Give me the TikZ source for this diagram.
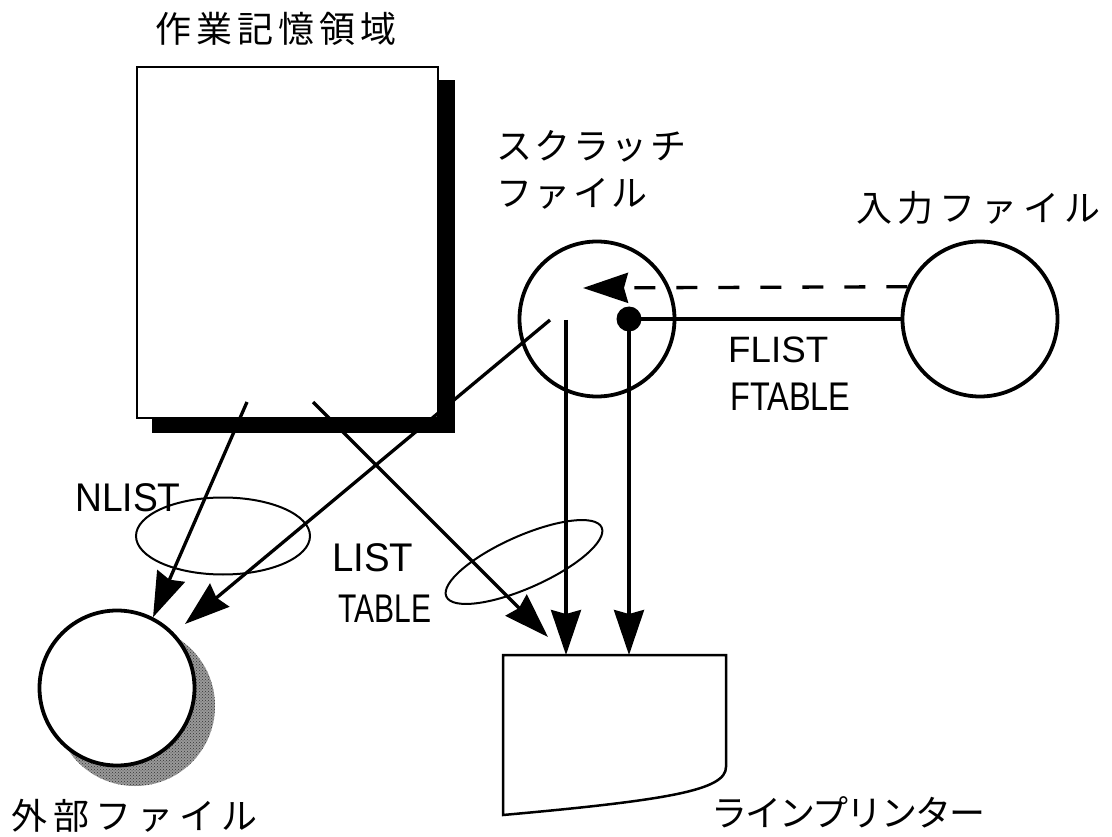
\documentclass[tikz,border=0pt]{standalone}
\usepackage{fontspec}
\setmainfont{Liberation Sans}
\newfontfamily\jp{Noto Sans CJK JP}
\usetikzlibrary{arrows.meta,patterns,shapes.geometric}
\begin{document}
\begin{tikzpicture}[x=1pt,y=-1pt,
  arrow/.style={line width=3.3pt,-{Stealth[length=45pt,width=30pt,inset=4pt]}},
  fileC/.style={circle,draw,line width=3.8pt,minimum size=155pt,inner sep=0pt,fill=white},
  ring/.style={ellipse,draw,line width=2pt,inner sep=0pt,fill=none},
  jlab/.style={font=\jp\fontsize{36}{40}\selectfont,inner sep=0pt,anchor=west},
  elab/.style={inner sep=0pt,anchor=west,font=\fontsize{40}{44}\selectfont}]
\useasboundingbox (0,0) rectangle (1112,837);
% working memory box with shadow
\fill (152,80) rectangle (455,433);
\node[draw,fill=white,line width=2pt,minimum width=301pt,minimum height=351pt,inner sep=0pt,anchor=north west] (mem) at (136,66) {};
\node[jlab] (memlab) at (155,29) {\addfontfeatures{LetterSpace=14}作業記憶領域};
% external file with shadow
\fill[black!40] (135,706) circle (80);
\fill[pattern=crosshatch dots,pattern color=black!80] (135,706) circle (80);
\node[fileC] (ext) at (117,688) {};
\node[jlab] (extlab) at (11,816) {\addfontfeatures{LetterSpace=17}外部ファイル};
% scratch file
\node[fileC] (scr) at (597,319) {};
\node[jlab] (scrlab1) at (496,146) {\addfontfeatures{LetterSpace=7}スクラッチ};
\node[jlab] (scrlab2) at (496,194) {\addfontfeatures{LetterSpace=7}ファイル};
% input file
\node[fileC] (inp) at (980,319) {};
\node[jlab] (inplab) at (856,208) {\addfontfeatures{LetterSpace=16}入力ファイル};
% line printer
\draw[line width=2.5pt,fill=white] (503,655) -- (726,655) -- (726,767) .. controls (726,790) and (670,800) .. (503,815) -- cycle;
\node[jlab] (prlab) at (711,812) {\addfontfeatures{LetterSpace=-5}ラインプリンター};
\coordinate (p1) at (566,655);
\coordinate (p2) at (629,655);
\coordinate (p3) at (548,637);
% start points
\coordinate (m1) at (247,402);
\coordinate (m2) at (313,402);
\coordinate (s1) at (550,320);
\coordinate (s2) at (566,320);
\coordinate (e2) at (185,624);
\coordinate (sd) at (583,288);
% ellipses
\node[ring,minimum width=174pt,minimum height=77pt] (nring) at (223,536) {};
\node[ring,minimum width=170pt,minimum height=52pt,rotate=24] (lring) at (524,562) {};
% connectors
\draw[arrow] (m1) -- (ext.63);
\draw[arrow] (s1) -- (e2);
\draw[arrow] (m2) -- (p3);
\draw[arrow] (s2) -- (p1);
\node[circle,fill,minimum size=25pt,inner sep=0pt] (dot) at (629,319) {};
\draw[arrow] (dot.center) -- (p2);
\draw[line width=3.5pt] (dot.center) -- (inp.west);
\draw[arrow,dash pattern=on 21pt off 21pt] (inp.156.6) -- (sd);
% labels
\node[elab] (fl) at (728,350) {\resizebox{100pt}{!}{FLIST}};
\node[elab] (ft) at (730,397) {\scalebox{0.81}[1]{FTABLE}};
\node[elab] (nl) at (75,498) {\scalebox{0.93}[1]{NLIST}};
\node[elab] (li) at (332,558) {\scalebox{0.96}[1]{LIST}};
\node[elab] (ta) at (338,609) {\scalebox{0.75}[1]{TABLE}};
\end{tikzpicture}
\end{document}
